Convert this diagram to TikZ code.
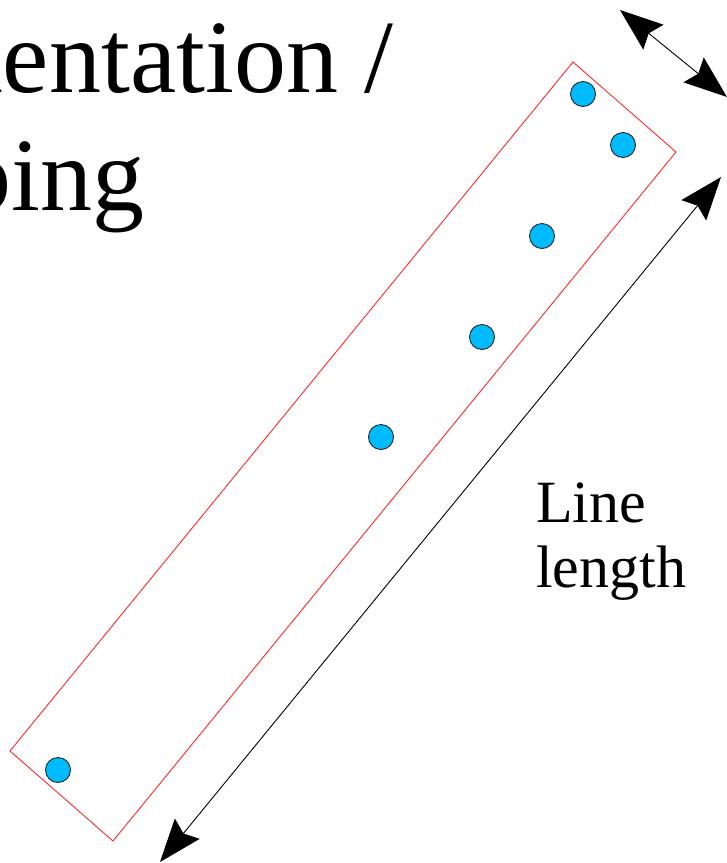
\documentclass[tikz,border=0pt]{standalone}
\usepackage{fontspec}
\setmainfont{Liberation Serif}
\usetikzlibrary{arrows.meta}
\definecolor{dotblue}{RGB}{0,187,255}
\definecolor{boxred}{RGB}{255,40,40}
\tikzset{
  dot/.style={circle, draw=black!85, line width=0.9pt, fill=dotblue, minimum size=25pt, inner sep=0pt},
  bigarrow/.style={line width=0.9pt, {Stealth[length=43pt,width=32pt,inset=6pt]}-{Stealth[length=43pt,width=32pt,inset=6pt]}},
  title/.style={font=\fontsize{104}{118}\selectfont, inner sep=0pt},
  label/.style={font=\fontsize{60}{65}\selectfont, inner sep=0pt, align=left}
}
\begin{document}
\begin{tikzpicture}[x=1pt, y=-1pt]
\useasboundingbox (0,0) rectangle (727,863);
\begin{scope}
\clip (0,0) rectangle (727,863);
\node[title, anchor=base east] (t1) at (393,92) {Segmentation /};
\node[title, anchor=base east] (t2) at (145,210) {Grouping};
\end{scope}
% red box
\coordinate (r1) at (573,62);
\coordinate (r2) at (676,152);
\coordinate (r3) at (113,841);
\coordinate (r4) at (10,751);
\draw[boxred, line width=0.9pt] (r1) -- (r2) -- (r3) -- (r4) -- cycle;
% dots
\node[dot] (d1) at (583,94) {};
\node[dot] (d2) at (623,145) {};
\node[dot] (d3) at (542,236) {};
\node[dot] (d4) at (482,337) {};
\node[dot] (d5) at (381,437) {};
\node[dot] (d6) at (58,770) {};
% arrows
\coordinate (a1) at (620,10);
\coordinate (a2) at (727,97);
\draw[bigarrow] (a1) -- (a2);
\coordinate (b1) at (721,177);
\coordinate (b2) at (160,862);
\draw[bigarrow] (b1) -- (b2);
\node[label, anchor=base west] (ll) at (536,587) {Line\\length};
\end{tikzpicture}
\end{document}
